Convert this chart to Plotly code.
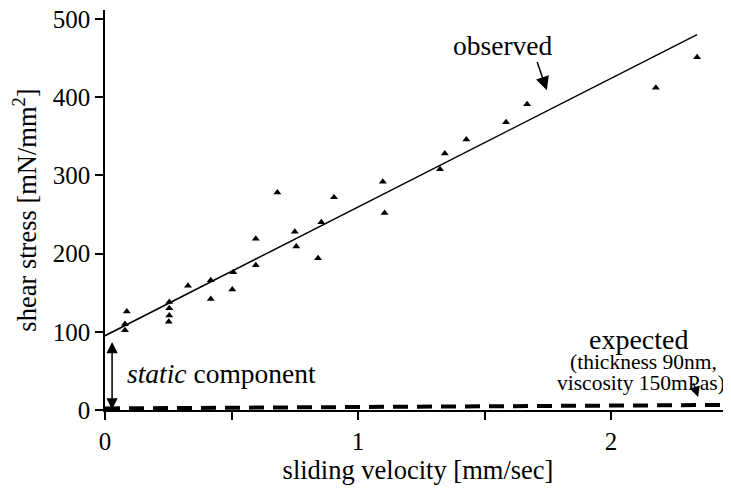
import plotly.graph_objects as go

# observed data points (sliding velocity [mm/sec], shear stress [mN/mm2])
obs_x = [0.086, 0.079, 0.079, 0.254, 0.254, 0.254, 0.252, 0.328, 0.418, 0.418,
         0.507, 0.503, 0.596, 0.596, 0.681, 0.750, 0.756, 0.855, 0.842, 0.905,
         1.098, 1.105, 1.324, 1.343, 1.428, 1.585, 1.668, 2.177, 2.340]
obs_y = [126, 110, 102, 138, 130, 121, 113, 159, 166, 142,
         176, 154, 219, 185, 278, 228, 209, 240, 194, 272,
         292, 252, 308, 328, 346, 368, 391, 412, 451]

# observed linear fit
fit_x = [0.0, 2.34]
fit_y = [95, 480]

# expected (viscous) line
exp_x = [0.0, 2.47]
exp_y = [2.0, 6.5]

x_tickvals = [0, 0.5, 1, 1.5, 2]
x_ticktext = ["0", "", "1", "", "2"]
y_tickvals = [0, 100, 200, 300, 400, 500]
y_ticktext = ["0", "100", "200", "300", "400", "500"]

FONT = "Liberation Serif, Times New Roman, serif"

fig = go.Figure()
fig.add_trace(go.Scatter(x=exp_x, y=exp_y, mode="lines",
                         line=dict(color="black", width=4, dash="15px,9px"),
                         showlegend=False, hoverinfo="skip"))
fig.add_trace(go.Scatter(x=fit_x, y=fit_y, mode="lines",
                         line=dict(color="black", width=1.5),
                         showlegend=False))
fig.add_trace(go.Scatter(x=obs_x, y=obs_y, mode="markers",
                         marker=dict(symbol="triangle-up", size=7, color="black"),
                         showlegend=False))

annotations = [
    dict(x=1.573, y=466.7, text="observed", showarrow=False,
         font=dict(size=27.5)),
    dict(x=1.746, y=409, ax=1.706, ay=447, axref="x", ayref="y",
         text="", showarrow=True, arrowhead=2, arrowsize=1.8, arrowwidth=1.5,
         arrowcolor="black"),
    dict(x=0.079, y=47.3, text="<i>static</i> component", showarrow=False,
         xanchor="left", font=dict(size=27.5)),
    dict(x=0.028, y=0.5, ax=0.028, ay=89, axref="x", ayref="y",
         text="", showarrow=True, arrowhead=2, arrowside="end+start",
         arrowsize=1.5, arrowwidth=1.5, arrowcolor="black"),
    dict(x=2.11, y=90, text="expected", showarrow=False,
         font=dict(size=28)),
    dict(x=2.13, y=61, text="(thickness 90nm,", showarrow=False,
         font=dict(size=21.5)),
    dict(x=2.12, y=34, text="viscosity 150mPas)", showarrow=False,
         font=dict(size=21.5)),
    dict(x=2.344, y=16.6, ax=2.324, ay=36, axref="x", ayref="y",
         text="", showarrow=True, arrowhead=2, arrowsize=1.4, arrowwidth=1.5,
         arrowcolor="black"),
]

# the page body adds an 8px offset, so the figure is 8px smaller on each side
fig.update_layout(
    width=723, height=483,
    margin=dict(l=97, r=0, t=2, b=81, autoexpand=False),
    paper_bgcolor="white", plot_bgcolor="white",
    font=dict(family=FONT, color="black", size=25),
    annotations=annotations,
    xaxis=dict(range=[0, 2.474], tickvals=x_tickvals, ticktext=x_ticktext,
               automargin=False, ticklabeloverflow="allow",
               ticks="outside", ticklen=8, tickwidth=1.5, tickcolor="black",
               showline=True, linecolor="black", linewidth=1.5,
               showgrid=False, zeroline=False,
               tickfont=dict(size=25),
               title=dict(text="sliding velocity [mm/sec]", font=dict(size=26.5),
                          standoff=0)),
    yaxis=dict(range=[0, 511.5], tickvals=y_tickvals, ticktext=y_ticktext,
               automargin=False, ticklabeloverflow="allow",
               ticks="outside", ticklen=8, tickwidth=1.5, tickcolor="black",
               showline=True, linecolor="black", linewidth=1.5,
               showgrid=False, zeroline=False,
               tickfont=dict(size=25),
               title=dict(text="shear stress [mN/mm<sup>2</sup>]", font=dict(size=26.5),
                          standoff=14)),
)

fig.write_html("out.html")
